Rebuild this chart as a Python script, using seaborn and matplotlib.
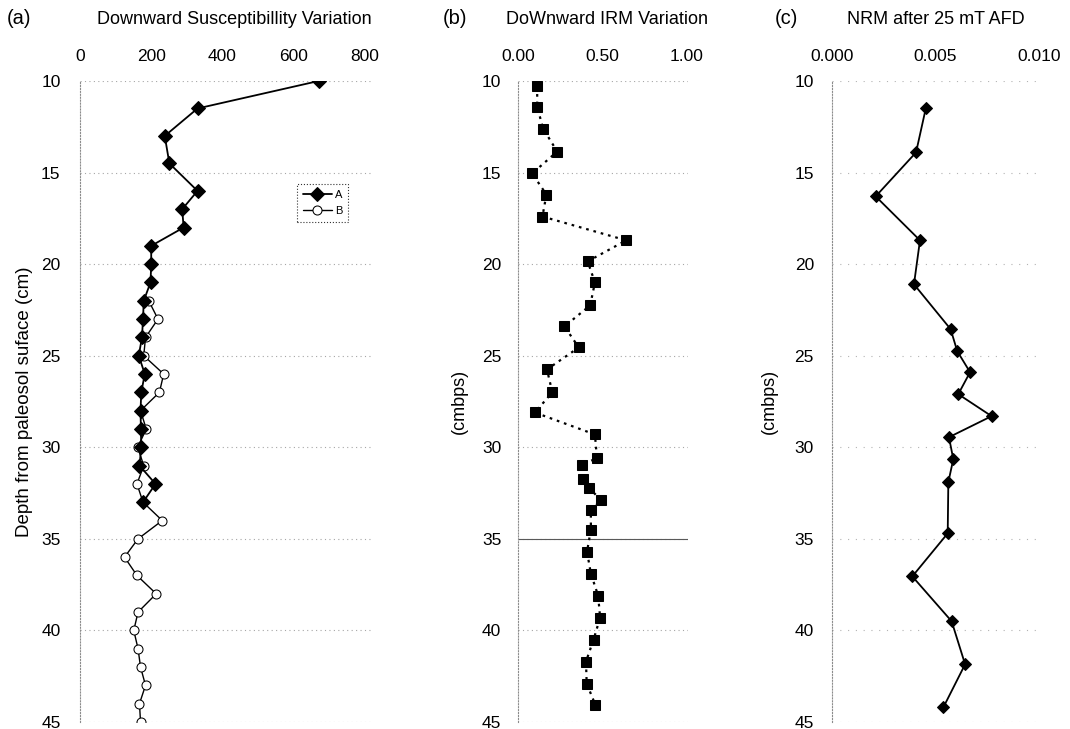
import matplotlib
matplotlib.use('Agg')
import matplotlib.pyplot as plt
import seaborn as sns
from matplotlib.ticker import FormatStrFormatter

# Data
depth_a = [10, 11.5, 13, 14.5, 16, 17, 18, 19, 20, 21, 22, 23, 24, 25, 26, 27, 28, 29, 30, 31, 32, 33]
sus_a = [670, 330, 238, 251, 330, 287, 291, 200, 200, 198, 179, 177, 174, 165, 182, 172, 170, 171, 172, 167, 212, 177]

depth_b = [22, 23, 24, 25, 26, 27, 28, 29, 30, 31, 32, 33, 34, 35, 36, 37, 38, 39, 40, 41, 42, 43, 44, 45]
sus_b = [193, 219, 184, 179, 235, 223, 170, 186, 162, 179, 160, 177, 231, 163, 125, 160, 214, 163, 151, 163, 170, 184, 167, 170]

depth_irm = [10.3, 11.4, 12.6, 13.85, 15.05, 16.2, 17.4, 18.7, 19.85, 21.0, 22.25, 23.4, 24.55, 25.75, 27.0, 28.1,
             29.3, 30.6, 30.95, 31.75, 32.2, 32.9, 33.4, 34.5, 35.7, 36.9, 38.1, 39.3, 40.5, 41.7, 42.9, 44.05]
irm = [0.114, 0.114, 0.149, 0.233, 0.084, 0.169, 0.145, 0.643, 0.414, 0.457, 0.429, 0.276, 0.361, 0.172, 0.204, 0.100,
       0.457, 0.469, 0.378, 0.384, 0.419, 0.496, 0.433, 0.433, 0.410, 0.433, 0.476, 0.488, 0.449, 0.404, 0.408, 0.459]

depth_nrm = [11.5, 13.9, 16.3, 18.7, 21.1, 23.55, 24.75, 25.9, 27.1, 28.3, 29.45, 30.65, 31.9, 34.7, 37.05, 39.5, 41.85, 44.2]
nrm = [0.00453, 0.00406, 0.00211, 0.00425, 0.00396, 0.00573, 0.00605, 0.00667, 0.0061, 0.00771, 0.00565, 0.00586,
       0.00562, 0.00559, 0.00388, 0.00578, 0.00643, 0.00538]

depth_ticks = [10, 15, 20, 25, 30, 35, 40, 45]

sns.set_style('white')
plt.rcParams['font.family'] = ['Liberation Sans', 'DejaVu Sans']
plt.rcParams['text.color'] = 'black'
plt.rcParams['axes.labelcolor'] = 'black'

fig = plt.figure(figsize=(10.7, 7.29), dpi=100)
W, H = 1070, 729
top, bot = 81, 722


def make_ax(x0, x1):
    return fig.add_axes([x0 / W, (H - bot) / H, (x1 - x0) / W, (bot - top) / H])


def style_ax(ax, xticks, fmt, pad_y):
    ax.set_ylim(45, 10)
    ax.set_yticks(depth_ticks)
    ax.set_xticks(xticks)
    if fmt:
        ax.xaxis.set_major_formatter(FormatStrFormatter(fmt))
    ax.xaxis.tick_top()
    ax.tick_params(axis='both', length=0, labelsize=12.5, colors='black')
    ax.tick_params(axis='x', pad=12)
    ax.tick_params(axis='y', pad=pad_y)
    for s in ['top', 'right', 'bottom']:
        ax.spines[s].set_visible(False)
    ax.spines['left'].set_linestyle(':')
    ax.spines['left'].set_color('0.55')
    ax.spines['left'].set_linewidth(0.8)
    ax.grid(axis='y', color='0.65', linestyle=(0, (1, 3)), linewidth=0.8)
    ax.grid(axis='x', visible=False)
    ax.set_xlabel('')


# (a) susceptibility
ax1 = make_ax(80, 372)
sns.lineplot(x=sus_a, y=depth_a, orient='y', sort=False, estimator=None, ax=ax1, color='black',
             linewidth=1.3, marker='D', markersize=7, markerfacecolor='black', markeredgecolor='black',
             label='A', zorder=4)
sns.lineplot(x=sus_b, y=depth_b, orient='y', sort=False, estimator=None, ax=ax1, color='black',
             linewidth=1.0, marker='o', markersize=6.5, markerfacecolor='white', markeredgecolor='black',
             label='B', zorder=3)
ax1.set_xlim(0, 820)
style_ax(ax1, [0, 200, 400, 600, 800], None, 14)
ax1.set_ylabel('Depth from paleosol suface (cm)', fontsize=13.5, labelpad=6)
leg = ax1.legend(loc='upper left', bbox_to_anchor=(0.725, 0.848), fontsize=8, frameon=True, fancybox=False,
                 handlelength=2.6, borderpad=0.5, labelspacing=0.6, handletextpad=0.3)
leg.get_frame().set_edgecolor('black')
leg.get_frame().set_linestyle(':')
leg.get_frame().set_linewidth(0.8)

# (b) IRM
ax2 = make_ax(518, 688)
sns.lineplot(x=irm, y=depth_irm, orient='y', sort=False, estimator=None, ax=ax2, color='black',
             linewidth=1.6, linestyle=(0, (1.2, 2.2)), marker='s', markersize=6.8,
             markerfacecolor='black', markeredgecolor='black')
ax2.set_xlim(0, 1.01)
style_ax(ax2, [0.0, 0.5, 1.0], '%.2f', 12)
ax2.set_ylabel('(cmbps)', fontsize=13, labelpad=10)
ax2.axhline(35, color='0.35', linewidth=0.8, zorder=1)

# (c) NRM
ax3 = make_ax(832, 1039)
sns.lineplot(x=nrm, y=depth_nrm, orient='y', sort=False, estimator=None, ax=ax3, color='black',
             linewidth=1.3, marker='D', markersize=6.5, markerfacecolor='black', markeredgecolor='black')
ax3.set_xlim(0, 0.010)
style_ax(ax3, [0.0, 0.005, 0.010], '%.3f', 13)
ax3.set_ylabel('(cmbps)', fontsize=13, labelpad=12)
ax3.grid(axis='y', color='0.7', linestyle=(0, (1, 6)), linewidth=0.8)

# panel titles
ty = 1 - 19 / H
fig.text(7 / W, ty, '(a)', fontsize=14.5, va='center', ha='left')
fig.text(234 / W, ty, 'Downward Susceptibillity Variation', fontsize=13, va='center', ha='center')
fig.text(443 / W, ty, '(b)', fontsize=14.5, va='center', ha='left')
fig.text(607 / W, ty, 'DoWnward IRM Variation', fontsize=13, va='center', ha='center')
fig.text(775 / W, ty, '(c)', fontsize=14.5, va='center', ha='left')
fig.text(936 / W, ty, 'NRM after 25 mT AFD', fontsize=13, va='center', ha='center')

fig.savefig('out.png', dpi=100)
